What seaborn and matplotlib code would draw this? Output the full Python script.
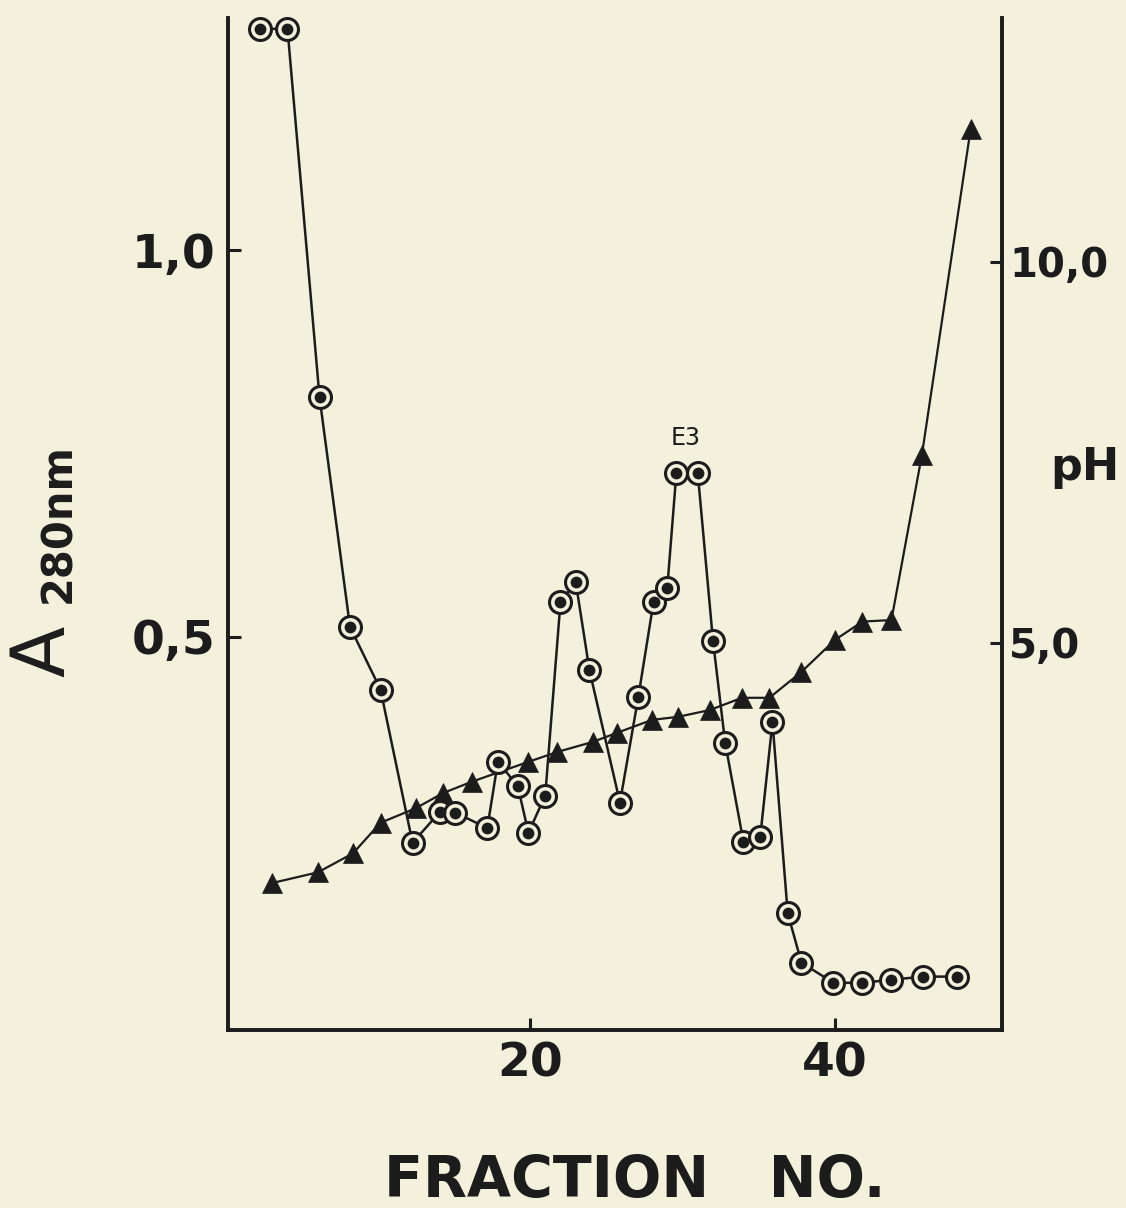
import pandas as pd
import matplotlib.pyplot as plt
import seaborn as sns

# absorbance at 280 nm (circles)
frac_a = [2.3, 4.1, 6.2, 8.2, 10.2, 12.3, 14.1, 15.1, 17.2, 17.9, 19.2, 19.9,
          21.0, 22.0, 23.0, 23.9, 25.9, 27.1, 28.1, 29.0, 29.6, 31.0, 32.0,
          32.8, 34.0, 35.1, 35.9, 36.9, 37.8, 39.9, 41.8, 43.7, 45.8, 48.0]
absorb = [1.286, 1.286, 0.81, 0.513, 0.432, 0.234, 0.274, 0.273, 0.253, 0.339,
          0.307, 0.247, 0.295, 0.545, 0.571, 0.457, 0.286, 0.422, 0.545, 0.563,
          0.712, 0.712, 0.495, 0.363, 0.235, 0.242, 0.390, 0.143, 0.079, 0.053,
          0.053, 0.057, 0.061, 0.061]

# pH gradient (triangles)
frac_ph = [3.1, 6.1, 8.4, 10.2, 12.5, 14.3, 16.2, 19.9, 21.8, 24.1, 25.7, 28.0,
           29.7, 31.8, 33.9, 35.7, 37.8, 40.0, 41.8, 43.7, 45.7, 48.9]
ph = [1.85, 1.99, 2.24, 2.64, 2.83, 3.03, 3.18, 3.44, 3.57, 3.70, 3.82, 3.99,
      4.03, 4.12, 4.28, 4.28, 4.62, 5.04, 5.28, 5.30, 7.47, 11.75]

a_ticks = [0.5, 1.0]
a_labels = ['0,5', '1,0']
ph_ticks = [5.0, 10.0]
ph_labels = ['5,0', '10,0']
x_ticks = [20, 40]

BG = '#f3f1dc'
INK = '#1c1c1c'

sns.set_style('ticks')
plt.rcParams['font.family'] = ['DejaVu Sans']

W, H = 1126, 1208
fig = plt.figure(figsize=(W / 100, H / 100), dpi=100, facecolor=BG)
ax = fig.add_axes([228 / W, (H - 1030) / H, (1002 - 228) / W, (1030 - 18) / H])
ax2 = ax.twinx()
ax.set_zorder(ax2.get_zorder() + 1)
ax.patch.set_visible(False)
ax2.set_facecolor(BG)

df_a = pd.DataFrame({'fraction': frac_a, 'A280': absorb})
df_ph = pd.DataFrame({'fraction': frac_ph, 'pH': ph})

sns.lineplot(data=df_ph, x='fraction', y='pH', ax=ax2, sort=False, estimator=None,
             color=INK, linewidth=1.6, marker='^', markersize=14,
             markerfacecolor=INK, markeredgecolor=INK, markeredgewidth=0.5,
             clip_on=False)

sns.lineplot(data=df_a, x='fraction', y='A280', ax=ax, sort=False, estimator=None,
             color=INK, linewidth=1.8, marker='o', markersize=15.8,
             markerfacecolor=BG, markeredgecolor=INK, markeredgewidth=2.2,
             clip_on=False)
sns.scatterplot(data=df_a, x='fraction', y='A280', ax=ax, color=INK, s=72,
                linewidth=0, zorder=5, clip_on=False)

ax.set_xlim(0.2, 50.95)
ax.set_ylim(-0.008, 1.30)
ax2.set_ylim(-0.079, 13.2)

ax.set_xticks(x_ticks)
ax.set_xticklabels([str(t) for t in x_ticks])
ax.set_yticks(a_ticks)
ax.set_yticklabels(a_labels)
ax2.set_yticks(ph_ticks)
ax2.set_yticklabels(ph_labels)

for a in (ax, ax2):
    for s in a.spines.values():
        s.set_linewidth(2.6)
        s.set_color(INK)
    a.spines['top'].set_visible(False)
    a.tick_params(direction='in', length=9, width=2.2, color=INK,
                  labelsize=34, labelcolor=INK)
ax.tick_params(axis='x', pad=8)
ax.tick_params(axis='y', pad=9)
ax2.tick_params(axis='y', pad=5, labelsize=29)
for lab in ax.get_xticklabels() + ax.get_yticklabels() + ax2.get_yticklabels():
    lab.set_fontweight('bold')

ax.set_xlabel('')
ax.set_ylabel('')
ax2.set_ylabel('')

ax.text(30.2, 0.757, 'E3', ha='center', va='center', fontsize=17, color=INK)

fig.text(635 / W, 1 - 1182 / H, 'FRACTION   NO.', ha='center', va='center',
         fontsize=41, fontweight='bold', color=INK)
fig.text(44 / W, 1 - 651 / H, 'A', rotation=90, ha='center', va='center',
         fontsize=54, color=INK)
fig.text(58 / W, 1 - 523 / H, '280nm', rotation=90, ha='center', va='center',
         fontsize=30, fontweight='bold', color=INK)
fig.text(1085 / W, 1 - 480 / H, 'pH', ha='center', va='baseline',
         fontsize=32, fontweight='bold', color=INK)

fig.savefig('out.png', dpi=100, facecolor=BG)
